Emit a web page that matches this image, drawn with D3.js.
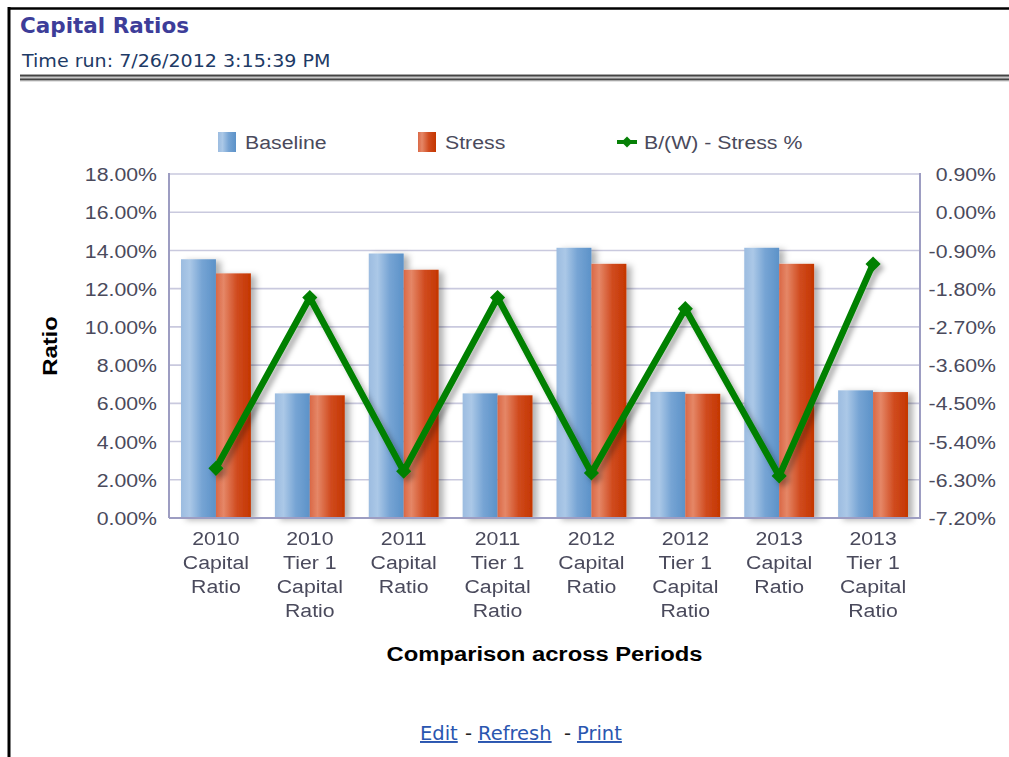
<!DOCTYPE html>
<html>
<head>
<meta charset="utf-8">
<script src="https://cdn.jsdelivr.net/npm/d3@7"></script>
<style>
  html, body { margin: 0; padding: 0; background: #fff; }
  svg { display: block; }
</style>
</head>
<body>
<svg id="chart" width="1009" height="757"></svg>
<script>
// chart values
const categories = [
    "2010\nCapital\nRatio", "2010\nTier 1\nCapital\nRatio",
    "2011\nCapital\nRatio", "2011\nTier 1\nCapital\nRatio",
    "2012\nCapital\nRatio", "2012\nTier 1\nCapital\nRatio",
    "2013\nCapital\nRatio", "2013\nTier 1\nCapital\nRatio"
];
const seriesNames = ["Baseline", "Stress"];
const baseline = [13.54, 6.52, 13.84, 6.52, 14.14, 6.60, 14.14, 6.68];
const stress = [12.80, 6.42, 12.99, 6.42, 13.30, 6.50, 13.30, 6.59];
const stressPct = [-6.03, -2.01, -6.10, -2.01, -6.14, -2.27, -6.21, -1.22];
const leftTicks = [0, 2, 4, 6, 8, 10, 12, 14, 16, 18];
const rightTicks = [-7.2, -6.3, -5.4, -4.5, -3.6, -2.7, -1.8, -0.9, 0, 0.9];

const lineName = "B/(W) - Stress %";
const title = "Capital Ratios";
const timeRun = "Time run: 7/26/2012 3:15:39 PM";
const xTitle = "Comparison across Periods";
const yTitle = "Ratio";
const links = ["Edit", "Refresh", "Print"];

const svg = d3.select("#chart");
const plot = {left: 169, right: 920, top: 174, bottom: 518};
const stretch = 1.12;   // the original text renders a bit wide
const tickFont = "'Liberation Sans', Arial, sans-serif";
const tickColor = "#4a4a5c";

// ---- defs: gradients + shadows
const defs = svg.append("defs");
function gradient(id, stops) {
    let g = defs.append("linearGradient").attr("id", id)
        .attr("x1", "0%").attr("x2", "100%").attr("y1", "0%").attr("y2", "0%");
    g.selectAll("stop").data(stops).join("stop")
        .attr("offset", d => d[0]).attr("stop-color", d => d[1]);
}
gradient("gBlue", [["0%", "#9cbce0"], ["25%", "#abc8e7"], ["60%", "#76a4d4"], ["100%", "#5c92c8"]]);
gradient("gRed", [["0%", "#da6846"], ["22%", "#e58767"], ["60%", "#d04b1f"], ["100%", "#c43600"]]);

function shadow(id, dx, dy, sd, op) {
    defs.append("filter").attr("id", id)
        .attr("x", "-20%").attr("y", "-20%").attr("width", "150%").attr("height", "150%")
        .append("feDropShadow")
        .attr("dx", dx).attr("dy", dy).attr("stdDeviation", sd)
        .attr("flood-color", "#000").attr("flood-opacity", op);
}
shadow("barShadow", 5, 2, 3, 0.3);
shadow("lineShadow", 4, 4, 2.5, 0.3);

// ---- page frame + header
svg.append("line").attr("x1", 8).attr("x2", 1009).attr("y1", 8.5).attr("y2", 8.5)
    .attr("stroke", "#000").attr("stroke-width", 2.5);
svg.append("line").attr("x1", 9).attr("x2", 9).attr("y1", 7).attr("y2", 757)
    .attr("stroke", "#000").attr("stroke-width", 3);

svg.append("text").attr("x", 20).attr("y", 33)
    .attr("font-family", "'DejaVu Sans', Verdana, sans-serif")
    .attr("font-weight", "bold").attr("font-size", 21.5)
    .attr("fill", "#3d3d99").text(title);
svg.append("text").attr("x", 22).attr("y", 67)
    .attr("font-family", "'DejaVu Sans', Verdana, sans-serif")
    .attr("font-size", 18).attr("fill", "#1d3a66")
    .attr("transform", "translate(22,0) scale(1.06,1) translate(-22,0)")
    .text(timeRun);

svg.append("rect").attr("x", 20).attr("y", 74).attr("width", 989).attr("height", 7.5).attr("fill", "#c8c8c8");
svg.append("line").attr("x1", 20).attr("x2", 1009).attr("y1", 75.6).attr("y2", 75.6)
    .attr("stroke", "#444").attr("stroke-width", 1.8);
svg.append("line").attr("x1", 20).attr("x2", 1009).attr("y1", 79.4).attr("y2", 79.4)
    .attr("stroke", "#444").attr("stroke-width", 1.8);

// ---- scales
const x = d3.scaleBand().domain(categories).range([plot.left, plot.right]);
const xSub = d3.scaleBand().domain(seriesNames).range([12, x.bandwidth() - 12]);
const yL = d3.scaleLinear().domain([0, 18]).range([plot.bottom, plot.top]);
const yR = d3.scaleLinear().domain([-7.2, 0.9]).range([plot.bottom, plot.top]);

// ---- gridlines
svg.append("g").selectAll("line").data(leftTicks).join("line")
    .attr("x1", plot.left).attr("x2", plot.right)
    .attr("y1", d => yL(d)).attr("y2", d => yL(d))
    .attr("stroke", "#c9c9de").attr("stroke-width", 1.6);

// ---- bars
const barData = categories.map((c, i) => [
    {cat: c, key: "Baseline", value: baseline[i]},
    {cat: c, key: "Stress", value: stress[i]}
]);
const groups = svg.append("g").attr("filter", "url(#barShadow)")
    .selectAll("g").data(barData).join("g")
    .attr("transform", d => `translate(${x(d[0].cat)},0)`);
groups.selectAll("rect").data(d => d).join("rect")
    .attr("x", d => xSub(d.key))
    .attr("width", xSub.bandwidth())
    .attr("y", d => yL(d.value))
    .attr("height", d => yL(0) - yL(d.value))
    .attr("fill", d => d.key === "Baseline" ? "url(#gBlue)" : "url(#gRed)");

// ---- axis frame lines
const axisColor = "#9d9dc2";
svg.append("line").attr("x1", plot.left).attr("x2", plot.left).attr("y1", plot.top - 1).attr("y2", plot.bottom)
    .attr("stroke", axisColor).attr("stroke-width", 2);
svg.append("line").attr("x1", plot.right).attr("x2", plot.right).attr("y1", plot.top - 1).attr("y2", plot.bottom)
    .attr("stroke", axisColor).attr("stroke-width", 2);
svg.append("line").attr("x1", plot.left).attr("x2", plot.right + 1).attr("y1", plot.bottom).attr("y2", plot.bottom)
    .attr("stroke", axisColor).attr("stroke-width", 2);

// ---- line series
const pts = categories.map((c, i) => ({cat: c, value: stressPct[i]}));
const lineG = svg.append("g").attr("filter", "url(#lineShadow)");
lineG.append("path").datum(pts)
    .attr("fill", "none").attr("stroke", "#068006").attr("stroke-width", 6.5)
    .attr("stroke-linejoin", "miter")
    .attr("d", d3.line().x(d => x(d.cat) + x.bandwidth() / 2).y(d => yR(d.value)));
lineG.selectAll("path.mark").data(pts).join("path").attr("class", "mark")
    .attr("d", d3.symbol(d3.symbolSquare, 115))
    .attr("fill", "#068006")
    .attr("transform", d => `translate(${x(d.cat) + x.bandwidth() / 2},${yR(d.value)}) rotate(45)`);

// ---- axes
function styleTicks(g, anchor, dx) {
    g.select(".domain").remove();
    g.selectAll(".tick line").remove();
    g.selectAll(".tick text")
        .attr("x", 0).attr("dy", "0.35em")
        .attr("text-anchor", anchor)
        .attr("font-family", tickFont).attr("font-size", 19).attr("fill", tickColor)
        .attr("transform", `translate(${dx},0) scale(${stretch},1)`);
}
svg.append("g").attr("transform", `translate(${plot.left},0)`)
    .call(d3.axisLeft(yL).tickValues(leftTicks).tickFormat(d => d.toFixed(2) + "%"))
    .call(g => styleTicks(g, "end", -12));
svg.append("g").attr("transform", `translate(${plot.right},0)`)
    .call(d3.axisRight(yR).tickValues(rightTicks).tickFormat(d => (Math.abs(d) < 1e-9 ? 0 : d).toFixed(2) + "%"))
    .call(g => styleTicks(g, "end", 76));

const xAxis = svg.append("g").attr("transform", `translate(0,${plot.bottom})`)
    .call(d3.axisBottom(x).tickSize(0).tickFormat(""));
xAxis.select(".domain").remove();
xAxis.selectAll(".tick text").remove();
xAxis.selectAll(".tick").append("text")
    .attr("text-anchor", "middle")
    .attr("font-family", tickFont).attr("font-size", 19).attr("fill", tickColor)
    .attr("transform", `scale(${stretch},1)`)
    .each(function(d) {
        d3.select(this).selectAll("tspan").data(d.split("\n")).join("tspan")
            .attr("x", 0).attr("y", (t, i) => 27 + i * 24).text(t => t);
    });

// ---- axis titles
svg.append("text")
    .attr("transform", `translate(${(plot.left + plot.right) / 2},661) scale(1.19,1)`)
    .attr("text-anchor", "middle")
    .attr("font-family", tickFont).attr("font-weight", "bold").attr("font-size", 20)
    .attr("fill", "#000").text(xTitle);
svg.append("text")
    .attr("transform", `translate(57,${(plot.top + plot.bottom) / 2}) rotate(-90) scale(1.19,1)`)
    .attr("text-anchor", "middle")
    .attr("font-family", tickFont).attr("font-weight", "bold").attr("font-size", 20)
    .attr("fill", "#000").text(yTitle);

// ---- legend
const legend = svg.append("g").attr("font-family", tickFont).attr("font-size", 19).attr("fill", tickColor);
const legendItems = [
    {name: "Baseline", x: 218, fill: "url(#gBlue)"},
    {name: "Stress", x: 418, fill: "url(#gRed)"}
];
legend.selectAll("rect").data(legendItems).join("rect")
    .attr("x", d => d.x).attr("y", 132).attr("width", 18).attr("height", 20)
    .attr("fill", d => d.fill);
legend.selectAll("text.sw").data(legendItems).join("text").attr("class", "sw")
    .attr("transform", d => `translate(${d.x + 27},149) scale(${stretch},1)`)
    .text(d => d.name);
legend.append("line").attr("x1", 617).attr("x2", 637).attr("y1", 142).attr("y2", 142)
    .attr("stroke", "#068006").attr("stroke-width", 4);
legend.append("path").attr("d", d3.symbol(d3.symbolSquare, 60))
    .attr("fill", "#068006").attr("transform", "translate(627,142) rotate(45)");
legend.append("text").attr("transform", `translate(644,149) scale(${stretch},1)`).text(lineName);

// ---- footer links
const linkFont = "'DejaVu Sans', Verdana, sans-serif";
const linkX = [420, 478, 577];
const foot = svg.append("g").attr("font-family", linkFont).attr("font-size", 19.5);
foot.selectAll("text.lnk").data(links).join("text").attr("class", "lnk")
    .attr("x", (d, i) => linkX[i]).attr("y", 740)
    .attr("fill", "#2a56b0").attr("text-decoration", "underline")
    .text(d => d);
foot.selectAll("text.sep").data([465, 564]).join("text").attr("class", "sep")
    .attr("x", d => d).attr("y", 740).attr("fill", "#222").text("-");
</script>
</body>
</html>
